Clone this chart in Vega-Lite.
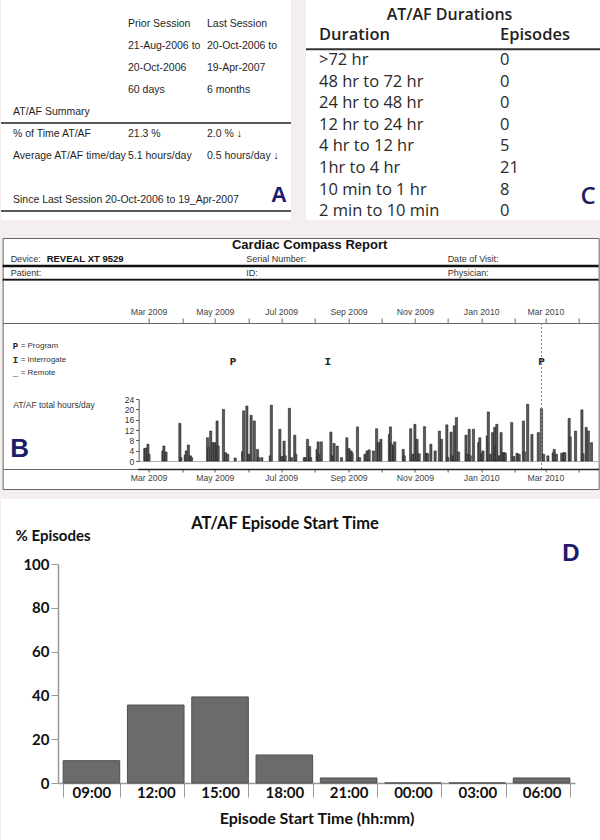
{
"$schema":"https://vega.github.io/schema/vega-lite/v6.json",
"background":"#f4eeee",
"padding":0,
"config":{"view":{"stroke":null},"font":"Liberation Sans","axis":{"grid":false}},
"datasets":{
"daily":[
{"date":"2009-02-21","hours":4.8},{"date":"2009-02-22","hours":5.0},{"date":"2009-02-24","hours":6.5},{"date":"2009-02-25","hours":2.6},
{"date":"2009-03-10","hours":3.9},{"date":"2009-03-11","hours":5.8},{"date":"2009-03-13","hours":3.5},{"date":"2009-03-26","hours":14.6},
{"date":"2009-03-27","hours":1.3},{"date":"2009-03-31","hours":2.3},{"date":"2009-04-01","hours":3.9},{"date":"2009-04-03","hours":6.2},
{"date":"2009-04-05","hours":2.0},{"date":"2009-04-06","hours":1.3},{"date":"2009-04-21","hours":9.0},{"date":"2009-04-22","hours":5.2},
{"date":"2009-04-24","hours":11.6},{"date":"2009-04-26","hours":7.1},{"date":"2009-04-28","hours":7.1},{"date":"2009-04-30","hours":15.5},
{"date":"2009-05-01","hours":5.8},{"date":"2009-05-06","hours":20.0},{"date":"2009-05-08","hours":3.2},{"date":"2009-05-10","hours":2.6},
{"date":"2009-05-17","hours":1.2},{"date":"2009-05-24","hours":3.6},{"date":"2009-05-25","hours":19.4},{"date":"2009-05-28","hours":21.3},
{"date":"2009-05-30","hours":2.6},{"date":"2009-06-01","hours":17.7},{"date":"2009-06-04","hours":15.5},{"date":"2009-06-07","hours":4.5},
{"date":"2009-06-08","hours":1.3},{"date":"2009-06-11","hours":1.3},{"date":"2009-06-19","hours":2.0},{"date":"2009-06-20","hours":21.6},
{"date":"2009-06-28","hours":12.3},{"date":"2009-06-30","hours":1.7},{"date":"2009-07-02","hours":7.7},{"date":"2009-07-03","hours":2.0},
{"date":"2009-07-07","hours":20.4},{"date":"2009-07-09","hours":1.3},{"date":"2009-07-12","hours":10.0},{"date":"2009-07-13","hours":2.6},
{"date":"2009-07-21","hours":1.3},{"date":"2009-07-22","hours":1.3},{"date":"2009-07-24","hours":8.4},{"date":"2009-07-26","hours":5.6},
{"date":"2009-07-27","hours":1.3},{"date":"2009-08-02","hours":4.5},{"date":"2009-08-03","hours":7.4},{"date":"2009-08-04","hours":2.6},
{"date":"2009-08-06","hours":7.4},{"date":"2009-08-15","hours":11.2},{"date":"2009-08-17","hours":2.0},{"date":"2009-08-18","hours":6.8},
{"date":"2009-08-21","hours":5.8},{"date":"2009-08-25","hours":1.3},{"date":"2009-08-30","hours":9.0},{"date":"2009-09-01","hours":4.8},
{"date":"2009-09-03","hours":3.9},{"date":"2009-09-04","hours":3.0},{"date":"2009-09-09","hours":13.2},{"date":"2009-09-11","hours":1.3},
{"date":"2009-09-16","hours":2.6},{"date":"2009-09-18","hours":3.9},{"date":"2009-09-20","hours":4.3},{"date":"2009-09-24","hours":3.9},
{"date":"2009-09-27","hours":12.5},{"date":"2009-09-29","hours":7.1},{"date":"2009-10-01","hours":8.4},{"date":"2009-10-09","hours":10.3},
{"date":"2009-10-10","hours":13.2},{"date":"2009-10-11","hours":6.5},{"date":"2009-10-13","hours":5.8},{"date":"2009-10-14","hours":7.4},
{"date":"2009-10-22","hours":4.5},{"date":"2009-10-23","hours":2.0},{"date":"2009-10-29","hours":12.5},{"date":"2009-10-31","hours":2.6},
{"date":"2009-11-02","hours":14.2},{"date":"2009-11-04","hours":8.4},{"date":"2009-11-06","hours":2.8},{"date":"2009-11-11","hours":13.3},
{"date":"2009-11-13","hours":3.0},{"date":"2009-11-14","hours":2.8},{"date":"2009-11-17","hours":6.5},{"date":"2009-11-21","hours":3.9},
{"date":"2009-11-25","hours":11.6},{"date":"2009-11-27","hours":8.4},{"date":"2009-12-02","hours":14.0},{"date":"2009-12-03","hours":1.3},
{"date":"2009-12-06","hours":11.2},{"date":"2009-12-08","hours":2.0},{"date":"2009-12-09","hours":13.6},{"date":"2009-12-11","hours":16.8},
{"date":"2009-12-13","hours":3.5},{"date":"2009-12-20","hours":10.0},{"date":"2009-12-21","hours":2.6},{"date":"2009-12-23","hours":12.3},
{"date":"2009-12-24","hours":2.0},{"date":"2009-12-27","hours":12.3},{"date":"2010-01-01","hours":7.1},{"date":"2010-01-02","hours":9.0},
{"date":"2010-01-04","hours":3.0},{"date":"2010-01-05","hours":3.9},{"date":"2010-01-09","hours":9.7},{"date":"2010-01-10","hours":19.0},
{"date":"2010-01-12","hours":2.6},{"date":"2010-01-14","hours":11.0},{"date":"2010-01-16","hours":13.0},{"date":"2010-01-17","hours":5.8},
{"date":"2010-01-18","hours":14.2},{"date":"2010-01-20","hours":2.0},{"date":"2010-01-22","hours":11.0},{"date":"2010-01-24","hours":3.2},
{"date":"2010-01-25","hours":3.2},{"date":"2010-01-26","hours":3.0},{"date":"2010-02-01","hours":14.9},{"date":"2010-02-03","hours":1.7},
{"date":"2010-02-06","hours":3.0},{"date":"2010-02-08","hours":2.6},{"date":"2010-02-12","hours":15.5},{"date":"2010-02-13","hours":3.5},
{"date":"2010-02-16","hours":22.0},{"date":"2010-02-20","hours":10.3},{"date":"2010-02-26","hours":11.0},{"date":"2010-03-01","hours":20.3},
{"date":"2010-03-03","hours":2.6},{"date":"2010-03-07","hours":2.0},{"date":"2010-03-12","hours":3.2},{"date":"2010-03-13","hours":4.5},
{"date":"2010-03-15","hours":2.6},{"date":"2010-03-20","hours":3.0},{"date":"2010-03-22","hours":3.2},{"date":"2010-03-23","hours":3.2},
{"date":"2010-03-27","hours":16.5},{"date":"2010-03-28","hours":9.3},{"date":"2010-04-02","hours":11.6},{"date":"2010-04-08","hours":19.8},
{"date":"2010-04-09","hours":2.8},{"date":"2010-04-12","hours":13.0},{"date":"2010-04-14","hours":11.6},{"date":"2010-04-17","hours":7.1}
],
"events":[{"date":"2009-05-15","event":"P"},{"date":"2009-08-12","event":"I"},{"date":"2010-03-01","event":"P"}]
},
"vconcat":[
{"vconcat":[
 {"hconcat":[
  {"width":290,"height":220,"view":{"fill":"white","stroke":null},
   "data":{"values":[
    {"row":"h1","label":"","prior":"Prior Session","last":"Last Session"},
    {"row":"h2","label":"","prior":"21-Aug-2006 to","last":"20-Oct-2006 to"},
    {"row":"h3","label":"","prior":"20-Oct-2006","last":"19-Apr-2007"},
    {"row":"h4","label":"","prior":"60 days","last":"6 months"},
    {"row":"summary","label":"AT/AF Summary","prior":"","last":""},
    {"row":"pct","label":"% of Time AT/AF","prior":"21.3 %","last":"2.0 % ↓"},
    {"row":"avg","label":"Average AT/AF time/day","prior":"5.1 hours/day","last":"0.5 hours/day ↓"},
    {"row":"since","label":"Since Last Session 20-Oct-2006 to 19_Apr-2007","prior":"","last":""}
   ]},
   "encoding":{"y":{"field":"row","type":"nominal","scale":{"type":"band","domain":["h1","h2","h3","h4","summary","pct","avg","gap","since"],"range":[13,211],"paddingInner":0,"paddingOuter":0},"axis":null}},
   "layer":[
    {"mark":{"type":"text","align":"left","baseline":"middle","font":"Liberation Sans","fontSize":10.5,"color":"#1f1f1f"},
     "encoding":{"x":{"datum":"label","type":"nominal","scale":{"type":"point","domain":["label","prior","last"],"range":[12,206],"padding":0},"axis":null},"text":{"field":"label"}}},
    {"mark":{"type":"text","align":"left","baseline":"middle","font":"Liberation Sans","fontSize":10.5,"color":"#1f1f1f","dx":18},
     "encoding":{"x":{"datum":"prior","type":"nominal","scale":{"type":"point","domain":["label","prior","last"],"range":[12,206],"padding":0},"axis":null},"text":{"field":"prior"}}},
    {"mark":{"type":"text","align":"left","baseline":"middle","font":"Liberation Sans","fontSize":10.5,"color":"#1f1f1f"},
     "encoding":{"x":{"datum":"last","type":"nominal","scale":{"type":"point","domain":["label","prior","last"],"range":[12,206],"padding":0},"axis":null},"text":{"field":"last"}}},
    {"transform":[{"filter":"datum.row === 'pct'"}],"mark":{"type":"rule","color":"#222","strokeWidth":1.6},
     "encoding":{"y":{"field":"row","type":"nominal","bandPosition":0,"scale":{"type":"band","domain":["h1","h2","h3","h4","summary","pct","avg","gap","since"],"range":[13,211],"paddingInner":0,"paddingOuter":0},"axis":null}}},
    {"transform":[{"filter":"datum.row === 'since'"}],"mark":{"type":"rule","color":"#222","strokeWidth":1.6},
     "encoding":{"y":{"field":"row","type":"nominal","bandPosition":1,"scale":{"type":"band","domain":["h1","h2","h3","h4","summary","pct","avg","gap","since"],"range":[13,211],"paddingInner":0,"paddingOuter":0},"axis":null}}},
    {"transform":[{"filter":"datum.row === 'since'"}],"mark":{"type":"text","align":"center","baseline":"middle","font":"Liberation Sans","fontWeight":"bold","fontSize":22,"color":"#1c1c6b","dx":72,"dy":-5},
     "encoding":{"x":{"datum":"last","type":"nominal","scale":{"type":"point","domain":["label","prior","last"],"range":[12,206],"padding":0},"axis":null},"text":{"value":"A"}}}
   ]},
  {"width":295,"height":220,"view":{"fill":"white","stroke":null},
   "layer":[
    {"data":{"values":[{"row":"title","text":"AT/AF Durations"}]},
     "mark":{"type":"text","baseline":"middle","font":"Open Sans","fontWeight":600,"fontSize":16,"color":"#222","dx":-4,"dy":-2},
     "encoding":{"y":{"field":"row","type":"nominal","scale":{"type":"band","domain":["title","header","r1","r2","r3","r4","r5","r6","r7","r8"],"range":[6,222],"paddingInner":0,"paddingOuter":0},"axis":null},"text":{"field":"text"}}},
    {"data":{"values":[{"row":"header","duration":"Duration","episodes":"Episodes"}]},
     "encoding":{"y":{"field":"row","type":"nominal","scale":{"type":"band","domain":["title","header","r1","r2","r3","r4","r5","r6","r7","r8"],"range":[6,222],"paddingInner":0,"paddingOuter":0},"axis":null}},
     "layer":[
      {"mark":{"type":"text","align":"left","baseline":"middle","font":"Open Sans","fontWeight":600,"fontSize":16.5,"color":"#222","dy":-3},
       "encoding":{"x":{"datum":"duration","type":"nominal","scale":{"type":"point","domain":["duration","episodes"],"range":[13,194],"padding":0},"axis":null},"text":{"field":"duration"}}},
      {"mark":{"type":"text","align":"left","baseline":"middle","font":"Open Sans","fontWeight":600,"fontSize":16.5,"color":"#222","dy":-3},
       "encoding":{"x":{"datum":"episodes","type":"nominal","scale":{"type":"point","domain":["duration","episodes"],"range":[13,194],"padding":0},"axis":null},"text":{"field":"episodes"}}},
      {"mark":{"type":"rule","color":"#333","strokeWidth":2},
       "encoding":{"y":{"field":"row","type":"nominal","bandPosition":1,"scale":{"type":"band","domain":["title","header","r1","r2","r3","r4","r5","r6","r7","r8"],"range":[6,222],"paddingInner":0,"paddingOuter":0},"axis":null}}}
     ]},
    {"data":{"values":[
      {"row":"r1","duration":">72 hr","episodes":0},
      {"row":"r2","duration":"48 hr to 72 hr","episodes":0},
      {"row":"r3","duration":"24 hr to 48 hr","episodes":0},
      {"row":"r4","duration":"12 hr to 24 hr","episodes":0},
      {"row":"r5","duration":"4 hr to 12 hr","episodes":5},
      {"row":"r6","duration":"1hr to 4 hr","episodes":21},
      {"row":"r7","duration":"10 min to 1 hr","episodes":8},
      {"row":"r8","duration":"2 min to 10 min","episodes":0}]},
     "encoding":{"y":{"field":"row","type":"nominal","scale":{"type":"band","domain":["title","header","r1","r2","r3","r4","r5","r6","r7","r8"],"range":[6,222],"paddingInner":0,"paddingOuter":0},"axis":null}},
     "layer":[
      {"mark":{"type":"text","align":"left","baseline":"middle","font":"Open Sans","fontWeight":500,"fontSize":16.5,"color":"#2a2a2a"},
       "encoding":{"x":{"datum":"duration","type":"nominal","scale":{"type":"point","domain":["duration","episodes"],"range":[13,194],"padding":0},"axis":null},"text":{"field":"duration"}}},
      {"mark":{"type":"text","align":"left","baseline":"middle","font":"Open Sans","fontWeight":500,"fontSize":16.5,"color":"#2a2a2a"},
       "encoding":{"x":{"datum":"episodes","type":"nominal","scale":{"type":"point","domain":["duration","episodes"],"range":[13,194],"padding":0},"axis":null},"text":{"field":"episodes","type":"quantitative"}}}
     ]},
    {"data":{"values":[{"row":"r7","panel":"C"}]},
     "mark":{"type":"text","align":"center","baseline":"middle","font":"Open Sans","fontWeight":600,"fontSize":24,"color":"#1c1c6b","dx":88,"dy":7},
     "encoding":{"y":{"field":"row","type":"nominal","scale":{"type":"band","domain":["title","header","r1","r2","r3","r4","r5","r6","r7","r8"],"range":[6,222],"paddingInner":0,"paddingOuter":0},"axis":null},
       "x":{"datum":"episodes","type":"nominal","scale":{"type":"point","domain":["duration","episodes"],"range":[13,194],"padding":0},"axis":null},"text":{"field":"panel"}}}
   ]}
 ],"spacing":15,"bounds":"flush"},
 {"vconcat":[
  {"width":596,"height":42,"view":{"fill":"white","stroke":"#666"},
   "layer":[
    {"data":{"values":[{"hrow":"title","text":"Cardiac Compass Report"}]},
     "mark":{"type":"text","baseline":"middle","font":"Liberation Sans","fontWeight":"bold","fontSize":13,"color":"#111","dx":9},
     "encoding":{"y":{"field":"hrow","type":"nominal","scale":{"type":"band","domain":["title","device","patient"],"paddingInner":0,"paddingOuter":0},"axis":null},"text":{"field":"text"}}},
    {"data":{"values":[
      {"hrow":"device","left":"Device:","value":"REVEAL XT 9529","mid":"Serial Number:","right":"Date of Visit:"},
      {"hrow":"patient","left":"Patient:","value":"","mid":"ID:","right":"Physician:"}]},
     "encoding":{"y":{"field":"hrow","type":"nominal","scale":{"type":"band","domain":["title","device","patient"],"paddingInner":0,"paddingOuter":0},"axis":null}},
     "layer":[
      {"mark":{"type":"text","align":"left","baseline":"middle","font":"Liberation Sans","fontSize":9,"color":"#333"},
       "encoding":{"x":{"datum":"left","type":"nominal","scale":{"type":"point","domain":["left","mid","right"],"range":[8,445],"padding":0},"axis":null},"text":{"field":"left"}}},
      {"mark":{"type":"text","align":"left","baseline":"middle","font":"Liberation Sans","fontWeight":"bold","fontSize":9.5,"color":"#111","dx":36},
       "encoding":{"x":{"datum":"left","type":"nominal","scale":{"type":"point","domain":["left","mid","right"],"range":[8,445],"padding":0},"axis":null},"text":{"field":"value"}}},
      {"mark":{"type":"text","align":"left","baseline":"middle","font":"Liberation Sans","fontSize":9,"color":"#333","dx":17},
       "encoding":{"x":{"datum":"mid","type":"nominal","scale":{"type":"point","domain":["left","mid","right"],"range":[8,445],"padding":0},"axis":null},"text":{"field":"mid"}}},
      {"mark":{"type":"text","align":"left","baseline":"middle","font":"Liberation Sans","fontSize":9,"color":"#333"},
       "encoding":{"x":{"datum":"right","type":"nominal","scale":{"type":"point","domain":["left","mid","right"],"range":[8,445],"padding":0},"axis":null},"text":{"field":"right"}}},
      {"mark":{"type":"rule","color":"#111","strokeWidth":2.5},
       "encoding":{"y":{"field":"hrow","type":"nominal","bandPosition":1,"scale":{"type":"band","domain":["title","device","patient"],"paddingInner":0,"paddingOuter":0},"axis":null}}}
     ]}
   ]},
  {"width":596,"height":43,"view":{"fill":"white","stroke":"#666"},
   "data":{"name":"events"},
   "mark":{"type":"point","opacity":0},
   "encoding":{"x":{"field":"date","type":"temporal",
     "scale":{"domain":[{"year":2009,"month":2,"date":19,"utc":true},{"year":2010,"month":4,"date":19,"utc":true}],"range":[135,596]},
     "axis":{"orient":"top","offset":-43,"title":null,"tickCount":{"interval":"month","step":1},"labelExpr":"month(datum.value) % 2 == 0 ? timeFormat(datum.value, '%b %Y') : ''","labelOverlap":false,"labelFlush":false,"labelFont":"Liberation Sans","labelFontSize":8.7,"labelColor":"#444","labelPadding":2,"tickSize":5,"tickColor":"#666","domainColor":"#666"}}}},
  {"width":596,"height":146,"view":{"fill":"white","stroke":"#666"},
   "resolve":{"scale":{"y":"independent"},"axis":{"y":"independent"}},
   "layer":[
    {"data":{"name":"daily"},
     "mark":{"type":"bar","size":2.2,"fill":"#5a5a5a","stroke":"#111","strokeWidth":0.5},
     "encoding":{
      "x":{"field":"date","type":"temporal",
       "scale":{"domain":[{"year":2009,"month":2,"date":19,"utc":true},{"year":2010,"month":4,"date":19,"utc":true}],"range":[135,596]},
       "axis":{"orient":"bottom","offset":-8,"labels":false,"ticks":false,"domainColor":"#b0b0b0","title":null}},
      "y":{"field":"hours","type":"quantitative","scale":{"domain":[0,24],"range":[138,76]},
       "axis":{"orient":"left","offset":-136,"values":[0,4,8,12,16,20,24],"labelFont":"Liberation Sans","labelFontSize":8.5,"labelColor":"#333","labelPadding":2,"tickSize":3,"tickColor":"#555","domainColor":"#555",
        "title":"AT/AF total hours/day","titleAngle":0,"titleAlign":"left","titleBaseline":"middle","titleX":-126,"titleY":81,"titleFont":"Liberation Sans","titleFontSize":8.5,"titleFontWeight":"normal","titleColor":"#333"}}
     }},
    {"data":{"values":[{"date":"2010-03-01"}]},
     "mark":{"type":"rule","color":"#888","strokeDash":[2,2],"strokeWidth":1},
     "encoding":{"x":{"field":"date","type":"temporal","scale":{"domain":[{"year":2009,"month":2,"date":19,"utc":true},{"year":2010,"month":4,"date":19,"utc":true}],"range":[135,596]}}}},
    {"data":{"name":"events"},
     "mark":{"type":"text","font":"Liberation Mono","fontWeight":"bold","fontSize":11,"color":"#222","dy":-34},
     "encoding":{"x":{"field":"date","type":"temporal","scale":{"domain":[{"year":2009,"month":2,"date":19,"utc":true},{"year":2010,"month":4,"date":19,"utc":true}],"range":[135,596]}},"text":{"field":"event"}}},
    {"data":{"values":[{"sym":"P","label":"= Program"},{"sym":"I","label":"= Interrogate"},{"sym":"_","label":"= Remote"}]},
     "encoding":{"y":{"field":"sym","type":"nominal","scale":{"type":"point","domain":["P","I","_"],"range":[23,50],"padding":0},"axis":null}},
     "layer":[
      {"mark":{"type":"text","align":"left","baseline":"middle","font":"Liberation Mono","fontWeight":"bold","fontSize":9,"color":"#222","dx":-288},"encoding":{"text":{"field":"sym"}}},
      {"mark":{"type":"text","align":"left","baseline":"middle","font":"Liberation Sans","fontSize":8,"color":"#333","dx":-280},"encoding":{"text":{"field":"label"}}}
     ]},
    {"data":{"values":[{"panel":"B"}]},
     "mark":{"type":"text","baseline":"middle","font":"Liberation Sans","fontWeight":"bold","fontSize":26,"color":"#1c1c6b","dx":-281,"dy":53},
     "encoding":{"text":{"field":"panel"}}}
   ]},
  {"width":596,"height":20,"view":{"fill":"white","stroke":"#666"},
   "data":{"name":"events"},
   "mark":{"type":"point","opacity":0},
   "encoding":{"x":{"field":"date","type":"temporal",
     "scale":{"domain":[{"year":2009,"month":2,"date":19,"utc":true},{"year":2010,"month":4,"date":19,"utc":true}],"range":[135,596]},
     "axis":{"orient":"bottom","offset":-20,"title":null,"tickCount":{"interval":"month","step":1},"labelExpr":"month(datum.value) % 2 == 0 ? timeFormat(datum.value, '%b %Y') : ''","labelOverlap":false,"labelFlush":false,"labelFont":"Liberation Sans","labelFontSize":8.7,"labelColor":"#444","labelPadding":1,"tickSize":3,"tickColor":"#555","domainColor":"#222","domainWidth":1.5}}}}
 ],"spacing":0,"bounds":"flush"}
],"spacing":17,"center":true},
{"width":600,"height":343,"view":{"fill":"white","stroke":null},
 "data":{"values":[
  {"time":"09:00","pct":10.2},{"time":"12:00","pct":35.6},{"time":"15:00","pct":39.3},{"time":"18:00","pct":12.8},
  {"time":"21:00","pct":2.3},{"time":"00:00","pct":0},{"time":"03:00","pct":0},{"time":"06:00","pct":2.3}]},
 "layer":[
  {"mark":{"type":"bar","fill":"#6b6b6b","stroke":"#4f4f4f","strokeWidth":1},
   "encoding":{
    "x":{"field":"time","type":"nominal","sort":null,
     "scale":{"domain":["09:00","12:00","15:00","18:00","21:00","00:00","03:00","06:00"],"range":[57,574],"paddingInner":0.12,"paddingOuter":0.08},
     "axis":{"orient":"bottom","offset":-59,"tickBand":"extent","tickSize":14,"tickColor":"#9a9a9a","domainColor":"#9a9a9a","domainWidth":1.5,"labelPadding":-12,"labelAngle":0,"labelFont":"Lato","labelFontSize":15,"labelFontWeight":"bold","labelColor":"#111",
      "title":"Episode Start Time (hh:mm)","titleFont":"Lato","titleFontSize":16,"titleFontWeight":"bold","titleColor":"#111","titlePadding":10}},
    "y":{"field":"pct","type":"quantitative","scale":{"domain":[0,100],"range":[284,65]},
     "axis":{"orient":"left","offset":-57,"values":[0,20,40,60,80,100],"tickSize":7,"tickColor":"#9a9a9a","domainColor":"#9a9a9a","domainWidth":1.5,"labelPadding":2,"labelFont":"Lato","labelFontSize":15,"labelFontWeight":"bold","labelColor":"#111",
      "title":"% Episodes","titleAngle":0,"titleAlign":"left","titleBaseline":"middle","titleX":-43,"titleY":36,"titleFont":"Lato","titleFontSize":15,"titleFontWeight":"bold","titleColor":"#111"}}
   }},
  {"data":{"values":[{"title":"AT/AF Episode Start Time"}]},
   "mark":{"type":"text","baseline":"middle","font":"Lato","fontSize":16.5,"fontWeight":"bold","color":"#111","dx":-16,"dy":-146.5},
   "encoding":{"text":{"field":"title"}}},
  {"data":{"values":[{"panel":"D"}]},
   "mark":{"type":"text","baseline":"middle","font":"Liberation Sans","fontSize":24,"fontWeight":"bold","color":"#1c1c6b","dx":270,"dy":-116.5},
   "encoding":{"text":{"field":"panel"}}}
 ]}
],
"spacing":9
}
